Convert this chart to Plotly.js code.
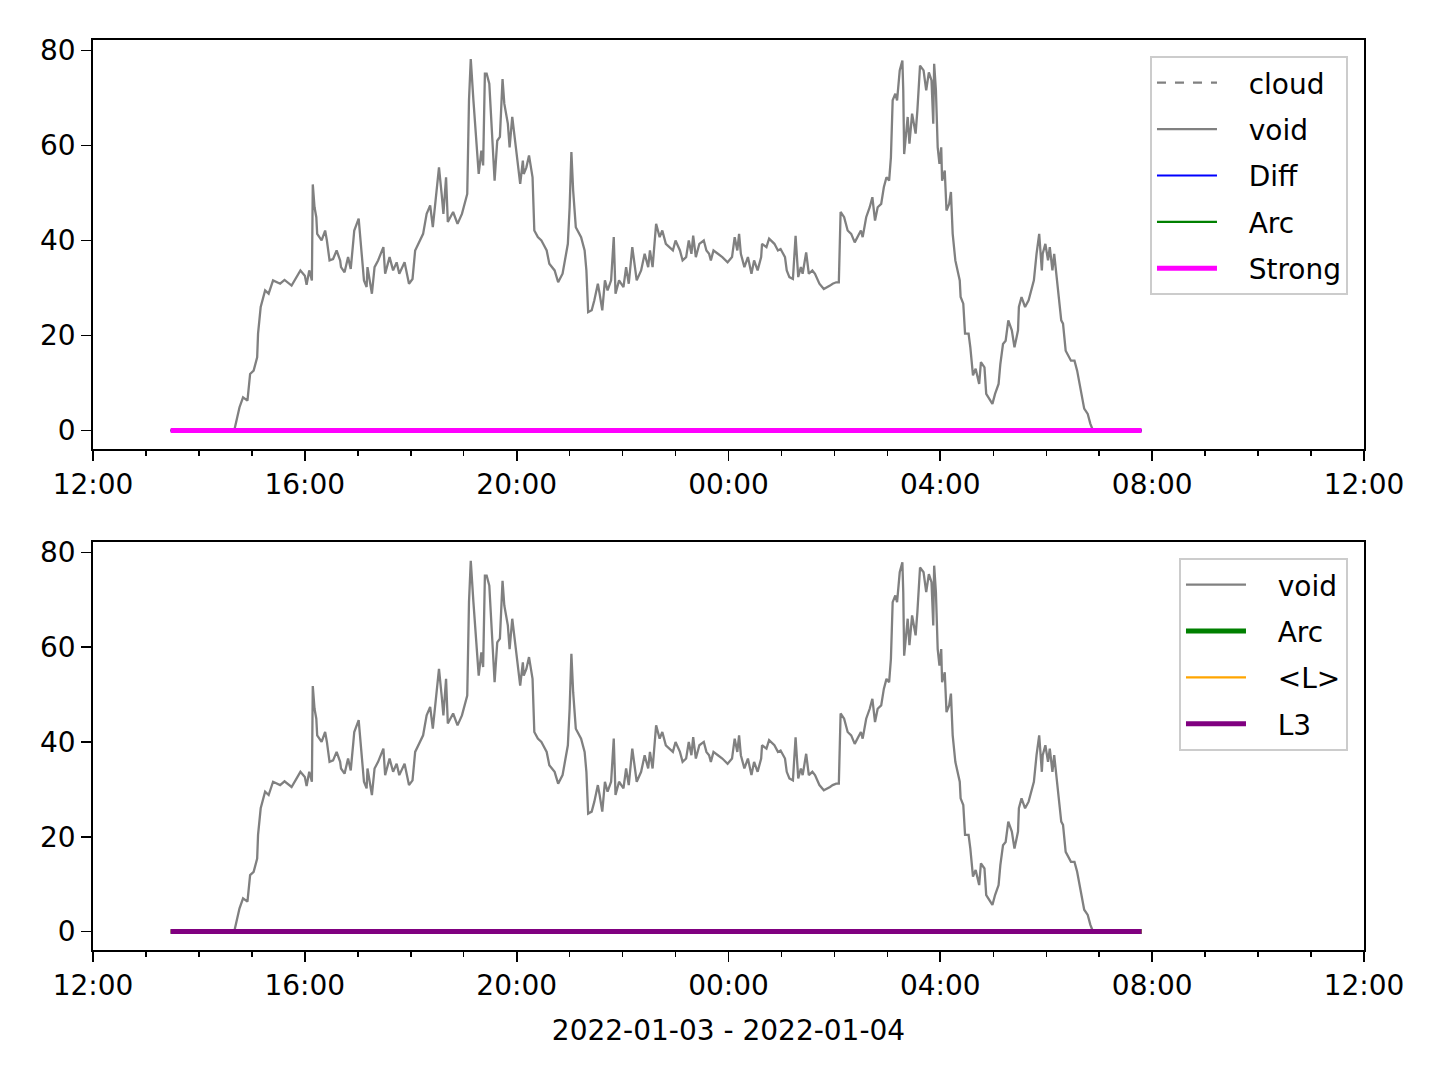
<!DOCTYPE html>
<html>
<head>
<meta charset="utf-8">
<script src="https://cdn.plot.ly/plotly-3.0.1.min.js"></script>
<style>html,body{margin:0;padding:0;background:#fff;}#chart{width:1440px;height:1080px;}</style>
</head>
<body>
<div id="chart"></div>
<script>
// ---- data ----
const startDay = '2022-01-03';
const endDay = '2022-01-04';
const voidTimes = [
 '13:28','14:40','14:46','14:50','14:55','14:58','15:02','15:06','15:07','15:10','15:15','15:19','15:24','15:32','15:37','15:45','15:55','16:00','16:02','16:05','16:08','16:09','16:11','16:13','16:14','16:19','16:23','16:25','16:28','16:32','16:36','16:40','16:41','16:45','16:49','16:52',
 '16:55','16:56','17:01','17:04','17:07','17:10','17:11','17:16','17:19','17:23','17:29','17:31','17:36','17:40','17:44','17:47','17:53','17:58','18:02','18:05','18:10','18:14','18:18','18:22','18:25','18:28','18:32','18:35','18:37','18:40','18:42','18:48','18:53','18:58','19:01','19:04','19:06','19:08','19:11','19:14','19:17','19:20','19:22','19:24','19:26','19:29','19:32','19:35','19:38','19:41','19:44','19:46','19:50','19:52','19:55','19:58','20:00','20:04','20:07','20:08','20:11','20:14','20:18','20:20','20:24','20:28',
 '20:30','20:34','20:37','20:43','20:47','20:52','20:58','21:00','21:02','21:04','21:07','21:13','21:17','21:19','21:21','21:25','21:28','21:32','21:34','21:37','21:40','21:43','21:47','21:50','21:52','21:56','22:01','22:04','22:07','22:11','22:16','22:21','22:25','22:29','22:31','22:34','22:38','22:42','22:45','22:49','22:53','22:57','23:00','23:05','23:08','23:12','23:15','23:18','23:20','23:23','23:27','23:32','23:35','23:38','23:40','23:43','23:48','23:53','23:59','00:04',
 '00:07','00:10','00:12','00:14','00:18','00:22','00:26','00:29','00:33','00:37','00:38','00:43','00:46','00:52','00:56','00:59','01:04','01:06','01:09','01:13','01:16','01:19','01:22','01:24','01:28','01:31','01:35','01:38','01:43','01:48','01:55','01:58','02:02','02:05','02:07','02:11','02:15','02:19','02:23','02:26','02:30','02:32','02:36','02:40','02:43','02:46','02:49','02:53','02:56','02:59','03:02','03:04','03:06','03:09','03:11','03:14','03:17','03:18','03:19','03:23','03:25','03:28','03:32','03:34','03:37','03:41','03:44','03:47','03:50','03:52','03:53','03:55','03:57','03:59','04:01','04:02','04:05','04:07','04:10','04:12','04:14','04:17','04:22','04:23','04:26','04:28','04:32','04:34','04:37','04:40','04:44','04:46','04:50','04:52','04:55','04:59','05:02','05:06','05:08','05:11','05:14','05:17','05:21','05:24','05:28','05:29','05:32','05:36','05:40','05:43','05:46','05:49','05:52','05:55','05:56','05:59','06:02','06:04','06:07','06:09','06:13','06:17','06:19','06:22','06:28','06:32','06:35','06:40','06:43','06:47','06:50','06:53','07:48'
];
const voidValues = [
 0,0,4.9,7.0,6.3,11.9,12.6,15.4,20.4,26,29.5,28.8,31.6,30.9,31.7,30.5,33.7,32.6,30.7,33.7,31.6,51.8,47,44.9,41.4,40,42.1,40,35.8,36.1,37.9,35.8,34.4,33.3,36.5,34,
 40,42.1,44.6,38.6,31.6,30.2,34.4,28.8,34.4,35.8,38.6,33,36.5,33.7,35.4,33,35.4,30.9,31.9,37.9,40,41.4,45.6,47.4,42.8,48.4,55.4,49.8,45.6,53.3,43.9,46,43.5,45.6,47.7,49.8,69.5,78.2,69.5,61,54,58.9,55.8,75.1,75.1,73,62.5,52.6,61,61.8,74,68.8,64.6,59.6,66,61,57.5,51.9,56.8,54,55.4,57.9,53.3,42.1,40.7,40,
 39.3,37.9,35.1,33.7,31.2,33,39.3,47,58.6,50.5,42.8,40.7,37.9,33.7,24.9,25.3,27.4,30.9,28.8,25.3,31.6,29.5,31.6,40.7,28.8,31.6,30.2,34.4,30.9,38.6,31.6,33.7,37.2,34.4,37.9,34.4,43.5,40.7,42.1,39.3,38.6,37.9,40,37.9,35.8,36.5,40,37.2,41,36.5,39.3,40,37.9,37.2,35.8,37.9,37.2,36.5,35.4,36.5,
 40.7,37.9,41.4,37.2,34.4,36.5,33,35.8,33.7,36.5,39.3,38.6,40.4,39.3,37.9,38.2,36.5,33.7,32.3,31.9,41,32.3,34.4,33,37.5,33,33.7,33,30.9,29.8,30.5,30.9,31.2,31.2,46,44.9,42.1,41.4,39.6,40.7,42.1,40.7,44.9,47,49.1,44.2,47,47.7,51.2,53.3,52.6,57.5,69.5,70.9,69.5,75.8,77.9,71.6,58.2,66,60.4,66.7,62.5,67.4,76.8,75.8,71.6,75.4,73.7,64.6,77.2,71.6,59.6,56.1,59.6,52.6,54.7,46.3,47.7,50.2,41.4,35.8,31.6,28.1,26.7,20.4,20.4,17.5,11.6,13,9.8,14.4,13.3,7.7,6.7,5.6,7.7,9.8,14,18.2,18.9,23.2,21.1,17.5,21.1,26,28.1,26,27.4,29.5,31.6,37.2,41.4,33.7,37.2,39.3,35.8,38.6,33.7,37.2,30.2,23.2,22.5,16.8,14.7,14.7,12.6,7.7,4.6,3.5,1.4,0,0
];
// flat series: zero over the whole period
const flatTimes = ['13:28','07:48'];
const cloudValues = [0,0];
const diffValues = [0,0];
const arcValues = [0,0];
const strongValues = [0,0];
const meanLValues = [0,0];
const l3Values = [0,0];
const xTickLabels = ['12:00','16:00','20:00','00:00','04:00','08:00','12:00'];
const xLabel = '2022-01-03 - 2022-01-04';
const yTicks = [0,20,40,60,80];

function toDate(hm){
  const h = parseInt(hm.slice(0,2),10);
  return (h >= 12 ? startDay : endDay) + ' ' + hm + ':00';
}
const vx = voidTimes.map(toDate);
const fx = flatTimes.map(toDate);

const FONT = 'DejaVu Sans, sans-serif';
const fs = 28;
const PAD = '\u00a0\u00a0\u00a0';

function line(x, y, name, color, width, xa, ya, legend, dash){
  return {x:x, y:y, name:PAD + name, type:'scatter', mode:'lines', xaxis:xa, yaxis:ya,
    line:{color:color, width:width, dash:dash||'solid'}, legend:legend, legendgroup:name+legend,
    hoverinfo:'skip'};
}

const traces = [
  line(fx, cloudValues, 'cloud', 'gray', 2.2, 'x', 'y', 'legend', 'dash'),
  line(vx, voidValues, 'void', 'gray', 2.3, 'x', 'y', 'legend'),
  line(fx, diffValues, 'Diff', 'blue', 2.2, 'x', 'y', 'legend'),
  line(fx, arcValues, 'Arc', 'green', 2.2, 'x', 'y', 'legend'),
  line(fx, strongValues, 'Strong', 'magenta', 5, 'x', 'y', 'legend'),
  line(vx, voidValues, 'void', 'gray', 2.3, 'x2', 'y2', 'legend2'),
  line(fx, arcValues, 'Arc', 'green', 5, 'x2', 'y2', 'legend2'),
  line(fx, meanLValues, '<L>', 'orange', 2.2, 'x2', 'y2', 'legend2'),
  line(fx, l3Values, 'L3', 'purple', 5, 'x2', 'y2', 'legend2')
];

const tickVals = [];
for (let i = 0; i < xTickLabels.length; i++) {
  const h = 12 + 4*i;
  const d = h < 24 ? startDay : endDay;
  tickVals.push(d + ' ' + String(h % 24).padStart(2,'0') + ':00:00');
}

function xaxis(anchor, withTitle){
  const a = {
    type:'date', anchor:anchor,
    range:[startDay+' 12:00:00', endDay+' 12:00:00'],
    tickmode:'array', tickvals:tickVals, ticktext:xTickLabels,
    ticks:'outside', ticklen:10, tickwidth:1.7, tickcolor:'black',
    minor:{dtick:3600000, ticks:'outside', ticklen:5, tickwidth:1.5, tickcolor:'black', showgrid:false},
    showline:true, linecolor:'black', linewidth:1.7, mirror:true,
    showgrid:false, zeroline:false,
    tickfont:{family:FONT, size:fs, color:'black'}
  };
  if (withTitle) a.title = {text:xLabel, font:{family:FONT, size:fs, color:'black'}, standoff:19};
  return a;
}
function yaxis(anchor, domain){
  return {
    anchor:anchor, domain:domain, range:[-3.9, 82.2],
    tickmode:'array', tickvals:yTicks,
    ticks:'outside', ticklen:10, tickwidth:1.7, tickcolor:'black',
    showline:true, linecolor:'black', linewidth:1.7, mirror:true,
    showgrid:false, zeroline:false,
    tickfont:{family:FONT, size:fs, color:'black'}
  };
}
function legendBox(y){
  return {x:0.9874, xanchor:'right', y:y, yanchor:'top',
    bgcolor:'white', bordercolor:'#cccccc', borderwidth:2,
    font:{family:FONT, size:fs, color:'black'}, tracegroupgap:7, itemwidth:60};
}

const layout = {
  width:1440, height:1080,
  margin:{l:93, r:76, t:40, b:130},
  paper_bgcolor:'white', plot_bgcolor:'white',
  showlegend:true,
  xaxis: xaxis('y', false),
  yaxis: yaxis('x', [0.5505, 1]),
  xaxis2: xaxis('y2', true),
  yaxis2: yaxis('x2', [0, 0.4484]),
  legend: legendBox(0.9824),
  legend2: legendBox(0.4308)
};

Plotly.newPlot('chart', traces, layout, {staticPlot:true, displayModeBar:false});
</script>
</body>
</html>
